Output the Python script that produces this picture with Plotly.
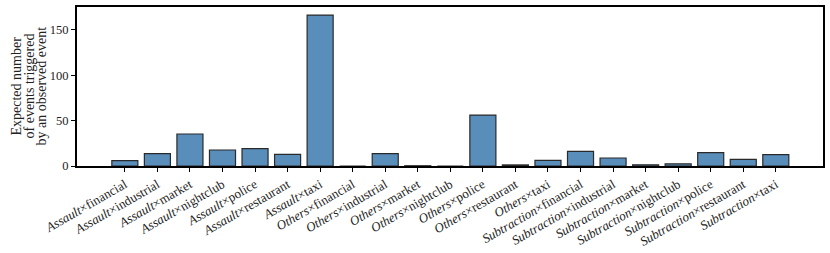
import plotly.graph_objects as go

crimes = ["Assault"] * 7 + ["Others"] * 7 + ["Subtraction"] * 7
places = ["financial", "industrial", "market", "nightclub", "police", "restaurant", "taxi"] * 3
values = [5.9, 13.6, 35.2, 17.6, 19.1, 12.9, 166.1,
          0.0, 13.6, 0.3, 0.0, 56.1, 1.2, 6.3,
          16.2, 8.8, 1.4, 2.4, 14.7, 7.4, 12.5]
y_ticks = [0, 50, 100, 150]
y_title_lines = ["Expected number", "of events triggered", "by an observed event"]

labels = [f"<i>{c}</i>×{p}" for c, p in zip(crimes, places)]

fig = go.Figure(go.Bar(
    x=labels, y=values,
    marker=dict(color="#598EBB", line=dict(color="#2a2a2a", width=1.2)),
))

axis_common = dict(showline=True, linecolor="black", linewidth=2, mirror=True,
                   ticks="outside", ticklen=4, tickcolor="black", showgrid=False,
                   zeroline=False, automargin=False)

title_shifts = [-61, -48, -36]
for line, dx in zip(y_title_lines, title_shifts):
    fig.add_annotation(text=line, xref="paper", yref="paper", x=0, y=0.5,
                       xanchor="center", yanchor="middle", xshift=dx,
                       textangle=-90, showarrow=False,
                       font=dict(size=14, color="#222222"))

fig.update_layout(
    width=830, height=253,
    margin=dict(l=77, r=7, t=7, b=87),
    paper_bgcolor="white", plot_bgcolor="white",
    font=dict(family="Liberation Serif, DejaVu Serif, serif", size=13, color="#222222"),
    bargap=0.2,
    showlegend=False,
    xaxis=dict(**axis_common, tickangle=-30, range=[-1.47, 21.45],
               tickfont=dict(size=13)),
    yaxis=dict(**axis_common, range=[0, 175], tickvals=y_ticks,
               tickfont=dict(size=12.5)),
)

fig.write_html("out.html", config={"displayModeBar": False},
               post_script="document.body.style.margin='0';")
